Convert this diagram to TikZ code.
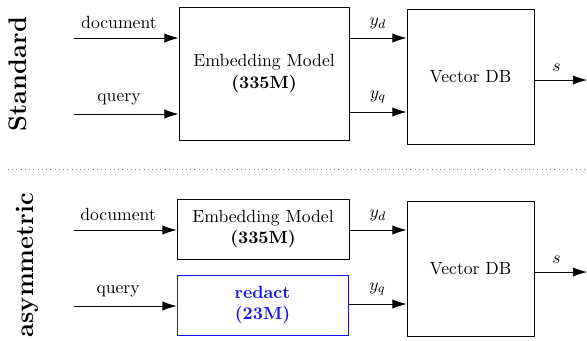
\documentclass[tikz,border=0pt]{standalone}
\usetikzlibrary{arrows.meta}
\definecolor{redblue}{RGB}{20,20,235}
\begin{document}
\begin{tikzpicture}[x=0.5666pt,y=-0.5666pt,
  box/.style={draw, line width=0.45pt, align=center, inner sep=0pt},
  arr/.style={-{Latex[length=8pt,width=5.2pt]}, line width=0.45pt},
  lbl/.style={above=1.5pt, inner sep=3.33pt},
  side/.style={rotate=90, font=\Large\bfseries, inner sep=0pt}]
\useasboundingbox (0,0) rectangle (587,340);
% ---------- Standard ----------
\node[side] (std) at (17.5,74) {Standard};
\node[box, minimum width=170*0.5666pt, minimum height=133*0.5666pt] (emb1) at (264,73.5) {Embedding Model\\\textbf{(335M)}};
\node[box, minimum width=127*0.5666pt, minimum height=135*0.5666pt] (vdb1) at (470.5,76.5) {Vector DB};
\coordinate (d1) at (74,38);
\coordinate (q1) at (74,114);
\coordinate (s1) at (587,80);
\draw[arr] (d1) -- (emb1.west |- d1) node[lbl, pos=0.43] {document};
\draw[arr] (q1) -- (emb1.west |- q1) node[lbl, pos=0.43] {query};
\draw[arr] (emb1.east |- d1) -- (vdb1.west |- d1) node[lbl, midway] {$y_d$};
\draw[arr] (emb1.east |- 0,112) -- (vdb1.west |- 0,112) node[lbl, midway] {$y_q$};
\draw[arr] (vdb1.east |- s1) -- (s1) node[lbl, pos=0.42] {$s$};
% ---------- separator ----------
\coordinate (sepL) at (8,169);
\coordinate (sepR) at (587,169);
\draw[gray, dotted, line width=0.4pt] (sepL) -- (sepR);
% ---------- asymmetric ----------
\node[side] (asy) at (27,265) {asymmetric};
\node[box, minimum width=172*0.5666pt, minimum height=60*0.5666pt] (emb2) at (263,229) {Embedding Model\\\textbf{(335M)}};
\node[box, draw=redblue, text=redblue, font=\bfseries, minimum width=171*0.5666pt, minimum height=60*0.5666pt] (red) at (262.5,305) {redact\\(23M)};
\node[box, minimum width=127*0.5666pt, minimum height=135*0.5666pt] (vdb2) at (470.5,268.5) {Vector DB};
\coordinate (d2) at (74,230);
\coordinate (q2) at (74,306);
\coordinate (s2) at (587,272);
\draw[arr] (d2) -- (emb2.west |- d2) node[lbl, pos=0.43] {document};
\draw[arr] (q2) -- (red.west |- q2) node[lbl, pos=0.43] {query};
\draw[arr] (emb2.east |- d2) -- (vdb2.west |- d2) node[lbl, midway] {$y_d$};
\draw[arr] (red.east |- 0,304) -- (vdb2.west |- 0,304) node[lbl, midway] {$y_q$};
\draw[arr] (vdb2.east |- s2) -- (s2) node[lbl, pos=0.42] {$s$};
\end{tikzpicture}
\end{document}
